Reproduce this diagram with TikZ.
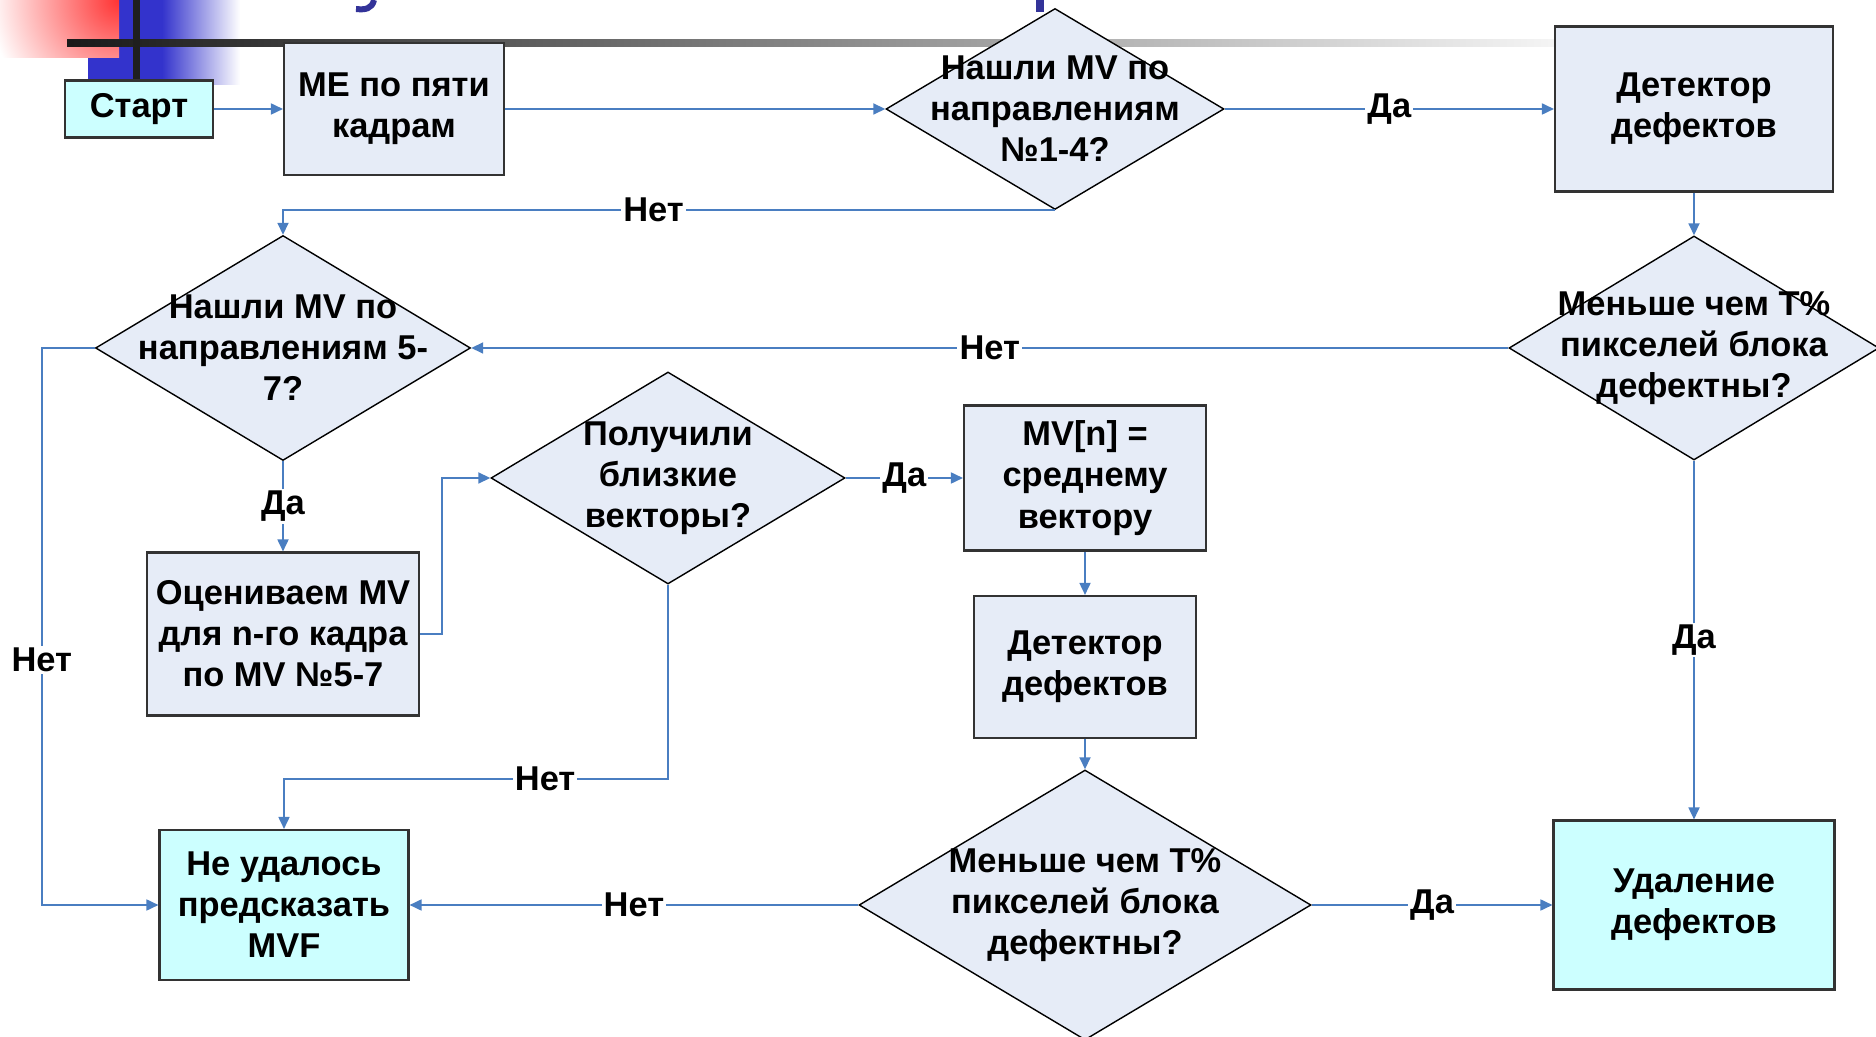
\documentclass[tikz,border=0pt]{standalone}
\usepackage{fontspec}
\setmainfont{Liberation Sans}
\usepackage{xcolor}
\usepackage{tikz}
\usetikzlibrary{shapes.geometric,arrows.meta,positioning,calc}

\definecolor{boxfill}{RGB}{230,236,247}
\definecolor{endfill}{RGB}{204,255,255}
\definecolor{linkblue}{RGB}{74,126,193}
\definecolor{titleblue}{RGB}{51,51,153}
\definecolor{barblue}{RGB}{51,51,204}

\begin{document}
\begin{tikzpicture}[
		font=\fontsize{9.8}{11.7}\selectfont\bfseries,
		box/.style={draw=black!80, line width=0.6pt, fill=boxfill, align=center, inner sep=1pt},
		endbox/.style={box, fill=endfill},
		dec/.style={draw, diamond, fill=boxfill, line width=0.4pt, inner sep=0pt},
		dtext/.style={align=center, inner sep=0pt},
		link/.style={draw=linkblue, line width=0.5pt, -{Triangle[length=1.2mm,width=1.1mm]}},
		lbl/.style={fill=white, inner sep=0.6pt}
	]
		\useasboundingbox (0,0) rectangle (18.76,10.36);

		% slide decoration
		\fill[barblue] (0.88,9.51) rectangle (1.62,10.36);
		\shade[left color=barblue, right color=white] (1.62,9.51) rectangle (2.40,10.36);
		\begin{scope}
			\clip (0,9.78) rectangle (1.19,10.36);
			\shade[inner color=red!80, outer color=white] (1.19,10.36) circle (1.3);
		\end{scope}
		\shade[left color=black!90, right color=black!4] (0.67,9.89) rectangle (15.56,9.96);
		\fill[black!88] (1.33,9.57) rectangle (1.40,10.36);
		\draw[titleblue, line width=0.06cm] (3.74,10.36) .. controls (3.72,10.27) and (3.65,10.26) .. (3.56,10.27);
		\fill[titleblue] (10.36,10.24) rectangle (10.44,10.36);

		\node[endbox, minimum width=1.48cm, minimum height=0.57cm] (start) at (1.39,9.27) {Старт};
		\node[box, minimum width=2.20cm, minimum height=1.32cm] (me) at (3.94,9.27) {МЕ по пяти\\кадрам};
		\node[dec, minimum width=3.38cm, minimum height=2.01cm,
			label={[dtext]center:{Нашли MV по\\направлениям\\№1-4?}}] (d14) at (10.55,9.27) {};
		\node[box, minimum width=2.78cm, minimum height=1.65cm] (det1) at (16.94,9.27) {Детектор\\дефектов};

		\node[dec, minimum width=3.70cm, minimum height=2.24cm,
			label={[dtext]center:{Меньше чем T\%\\пикселей блока\\дефектны?}}] (thr1) at (16.94,6.88) {};
		\node[dec, minimum width=3.75cm, minimum height=2.25cm,
			label={[dtext]center:{Нашли MV по\\направлениям 5-\\7?}}] (d57) at (2.83,6.88) {};

		\node[box, minimum width=2.72cm, minimum height=1.63cm] (est) at (2.83,4.02) {Оцениваем MV\\для n-го кадра\\по MV №5-7};
		\node[dec, minimum width=3.54cm, minimum height=2.12cm,
			label={[dtext]center:{Получили\\близкие\\векторы?}}] (close) at (6.68,5.58) {};
		\node[box, minimum width=2.42cm, minimum height=1.45cm] (mean) at (10.85,5.58) {MV[n] =\\среднему\\вектору};
		\node[box, minimum width=2.22cm, minimum height=1.42cm] (det2) at (10.85,3.69) {Детектор\\дефектов};

		\node[dec, minimum width=4.52cm, minimum height=2.70cm,
			label={[dtext]center:{Меньше чем T\%\\пикселей блока\\дефектны?}}] (thr2) at (10.85,1.31) {};
		\node[endbox, minimum width=2.49cm, minimum height=1.50cm] (fail) at (2.84,1.31) {Не удалось\\предсказать\\MVF};
		\node[endbox, minimum width=2.81cm, minimum height=1.69cm] (remove) at (16.94,1.31) {Удаление\\дефектов};

		\coordinate (nbend) at (6.68,2.57);

		\draw[link] (start) -- (me);
		\draw[link] (me) -- (d14);
		\draw[link] (d14) -- node[lbl]{Да} (det1);
		\draw[link] (det1) -- (thr1);
		\draw[link] (d14.south) -| node[lbl, pos=0.26]{Нет} (d57.north);
		\draw[link] (thr1) -- node[lbl]{Нет} (d57);
		\draw[link] (d57) -- node[lbl]{Да} (est);
		\draw[link] (d57.west) -- ++(-0.53,0) |- node[lbl, pos=0.28]{Нет} (fail.west);
		\draw[link] (est.east) -- ++(0.22,0) |- (close.west);
		\draw[link] (close) -- node[lbl]{Да} (mean);
		\draw[link] (mean) -- (det2);
		\draw[link] (det2) -- (thr2);
		\draw[link] (close.south) -- (nbend) -| node[lbl, pos=0.16]{Нет} (fail.north);
		\draw[link] (thr2) -- node[lbl]{Нет} (fail);
		\draw[link] (thr2) -- node[lbl]{Да} (remove);
		\draw[link] (thr1) -- node[lbl]{Да} (remove);
	\end{tikzpicture}
\end{document}
